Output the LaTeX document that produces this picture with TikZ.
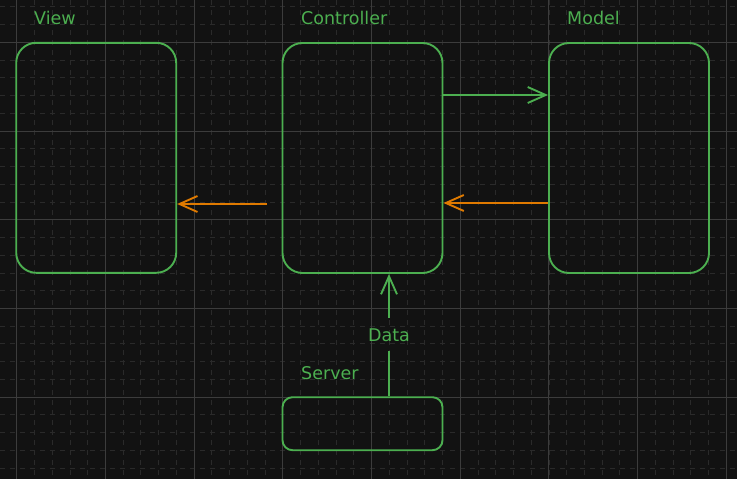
\documentclass[tikz,border=0pt]{standalone}
\usepackage{fontspec}
\setmainfont{DejaVu Sans}
\usetikzlibrary{arrows.meta}
\definecolor{bg}{HTML}{121212}
\definecolor{gmaj}{HTML}{3C3C3C}
\definecolor{gmin}{HTML}{2A2A2A}
\definecolor{grn}{HTML}{4CAF50}
\definecolor{org}{HTML}{E07A00}
\tikzset{
  box/.style={draw=grn, line width=1.9pt, rounded corners=20pt, inner sep=0pt, minimum width=160pt, minimum height=230pt},
  smallbox/.style={draw=grn, line width=1.9pt, rounded corners=10pt, inner sep=0pt, minimum width=160pt, minimum height=53pt},
  lbl/.style={text=grn, inner sep=0pt, font=\fontsize{17.5}{20}\selectfont},
  garrow/.style={draw=grn, line width=1.9pt, -{Straight Barb[length=18pt,width=16pt,line width=1.9pt]}},
  oarrow/.style={draw=org, line width=1.9pt, -{Straight Barb[length=18pt,width=16pt,line width=1.9pt]}},
  gline/.style={draw=grn, line width=1.9pt},
}
\begin{document}
\begin{tikzpicture}[x=1pt,y=-1pt]
\fill[bg] (0,0) rectangle (737,479);
\useasboundingbox (0,0) rectangle (737,479);
% minor grid
\foreach \i in {-1,...,41} {
  \pgfmathsetmacro{\xx}{16.7+\i*17.74}
  \draw[gmin, line width=0.8pt, dash pattern=on 5pt off 5pt] (\xx,0) -- (\xx,479);
}
\foreach \i in {-3,...,25} {
  \pgfmathsetmacro{\yy}{42.3+\i*17.74}
  \draw[gmin, line width=0.8pt, dash pattern=on 5pt off 5pt] (0,\yy) -- (737,\yy);
}
% major grid
\foreach \i in {0,...,8} {
  \pgfmathsetmacro{\xx}{16.7+\i*88.7}
  \draw[gmaj, line width=1pt] (\xx,0) -- (\xx,479);
}
\foreach \i in {0,...,4} {
  \pgfmathsetmacro{\yy}{42.3+\i*88.7}
  \draw[gmaj, line width=1pt] (0,\yy) -- (737,\yy);
}
% boxes
\node[box] (view) at (96.2,157.8) {};
\node[box] (ctrl) at (362.5,158) {};
\node[box] (model) at (629,158) {};
\node[smallbox] (server) at (362.5,423.7) {};
% labels
\node[lbl, anchor=base west] (tview) at (34,24) {View};
\node[lbl, anchor=base west] (tctrl) at (301,24) {Controller};
\node[lbl, anchor=base west] (tmodel) at (567,24) {Model};
\node[lbl, anchor=base west] (tserver) at (301,379) {Server};
\node[lbl, anchor=base] (tdata) at (389,341) {Data};
% arrows
\coordinate (c1) at (443,95);
\draw[garrow] (ctrl.east |- c1) -- (model.west |- c1);
\coordinate (c2) at (549,203);
\draw[oarrow] (model.west |- c2) -- (ctrl.east |- c2);
\coordinate (c3) at (267,204);
\draw[oarrow] (c3) -- (view.east |- c3);
\coordinate (d1) at (389,351);
\coordinate (d2) at (389,318);
\draw[gline] (server.north -| d1) -- (d1);
\draw[garrow] (d2) -- (ctrl.south -| d2);
\end{tikzpicture}
\end{document}
